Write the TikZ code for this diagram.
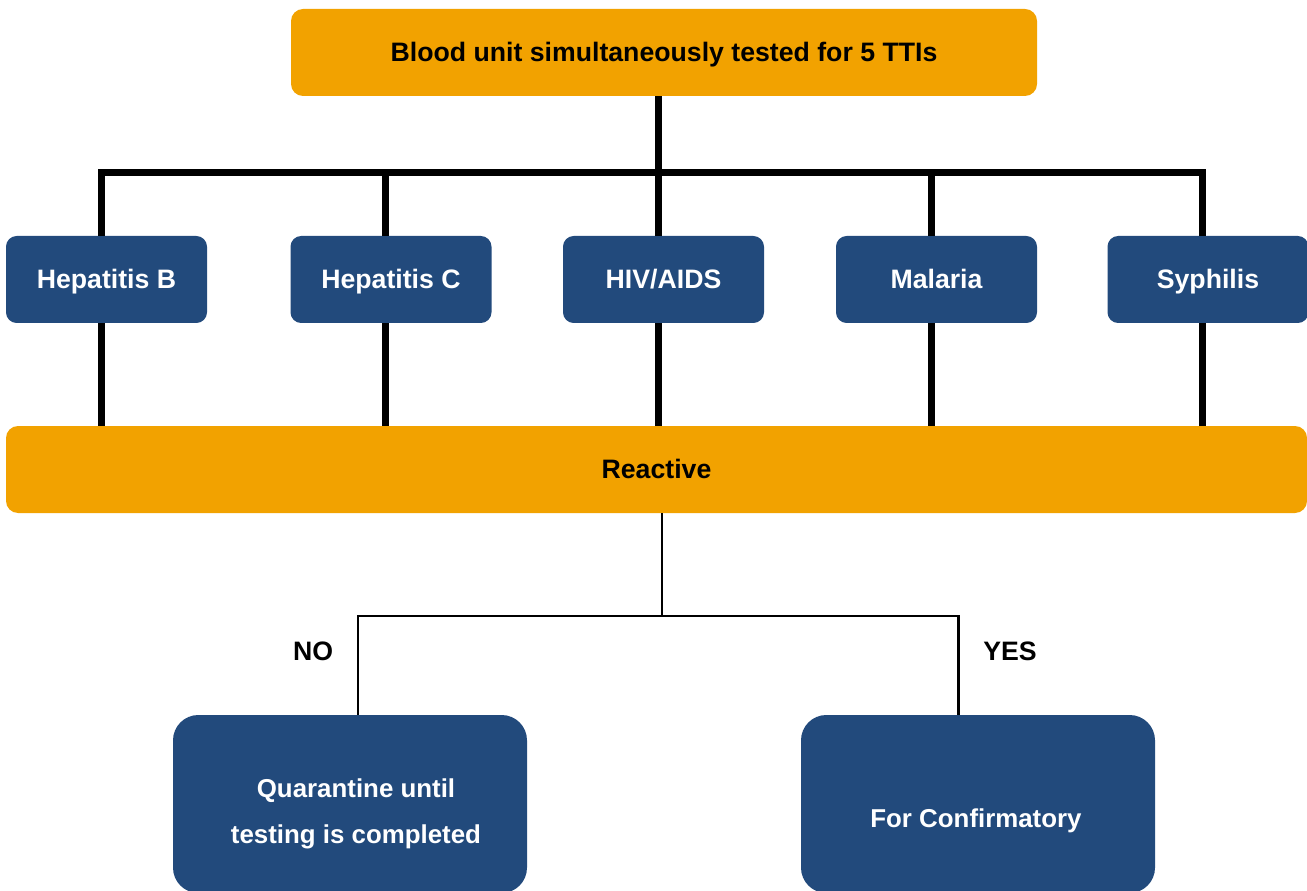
\documentclass[tikz,border=0pt]{standalone}
\usepackage{fontspec}
\setmainfont{Liberation Sans}
\usepackage{xcolor}
\definecolor{ttiorange}{RGB}{242,162,0}
\definecolor{ttiblue}{RGB}{34,74,124}

\begin{document}
\begin{tikzpicture}[x=0.75pt,y=-0.75pt,font=\fontsize{20}{24}\selectfont\bfseries,
  bar/.style={fill=ttiorange,rounded corners=9pt,inner sep=0pt,minimum height=65.25pt,
    text height=13pt,text depth=0pt},
  testbox/.style={fill=ttiblue,text=white,rounded corners=8pt,inner sep=0pt,
    minimum width=150.75pt,minimum height=65.25pt,text height=13pt,text depth=0pt},
  outcome/.style={fill=ttiblue,rounded corners=19pt,inner sep=0pt,
    minimum width=265.5pt,minimum height=133.5pt},
  outtext/.style={text=white,align=center,font=\fontsize{19.4}{34.5}\selectfont\bfseries},
  bus/.style={line width=5.25pt},
  branch/.style={line width=1.9pt}]
  \useasboundingbox (0,0) rectangle (1307,891);

  % top and the five tests
  \node[bar,minimum width=559.5pt] (top) at (664,52.5) {Blood unit simultaneously tested for 5 TTIs};
  \node[testbox] (hb) at (106.5,279.5) {Hepatitis B};
  \node[testbox] (hc) at (391,279.5) {Hepatitis C};
  \node[testbox] (hiv) at (663.5,279.5) {HIV/AIDS};
  \node[testbox] (mal) at (936.5,279.5) {Malaria};
  \node[testbox] (syph) at (1208,279.5) {Syphilis};
  \node[bar,minimum width=975.75pt] (react) at (656.5,469.5) {Reactive};

  % outcomes
  \node[outcome,label={[outtext,xshift=4.5pt,yshift=-7.5pt]center:{Quarantine until\\testing is completed}}] (quar) at (350,804) {};
  \node[outcome,label={[outtext,xshift=-1.5pt,yshift=-12.5pt]center:{For Confirmatory}}] (conf) at (978,804) {};
  \node (no) at (313,651) {NO};
  \node (yes) at (1010,651) {YES};

  \coordinate (bus) at (659,173);
  \coordinate (split) at (662,616);
  \coordinate (nojoin) at (358,616);
  \coordinate (yesjoin) at (958.5,616);

  \draw[bus] ([xshift=-4pt]hiv.north |- top.south) -- ([xshift=-4pt]hiv.north);
  \draw[bus] ([xshift=-4pt]hb.north) |- ([xshift=-4pt]syph.north |- bus) -- ([xshift=-4pt]syph.north);
  \foreach \n in {hc,mal}
    \draw[bus] ([xshift=-4pt]\n.north) -- ([xshift=-4pt]\n.north |- bus);
  \foreach \n in {hb,hc,hiv,mal,syph}
    \draw[bus] ([xshift=-4pt]\n.south) -- ([xshift=-4pt]\n.south |- react.north);

  \draw[branch] (split |- react.south) -- (split);
  \draw[branch] (nojoin |- quar.north) -- (nojoin) -- (yesjoin) -- (yesjoin |- conf.north);
\end{tikzpicture}
\end{document}
